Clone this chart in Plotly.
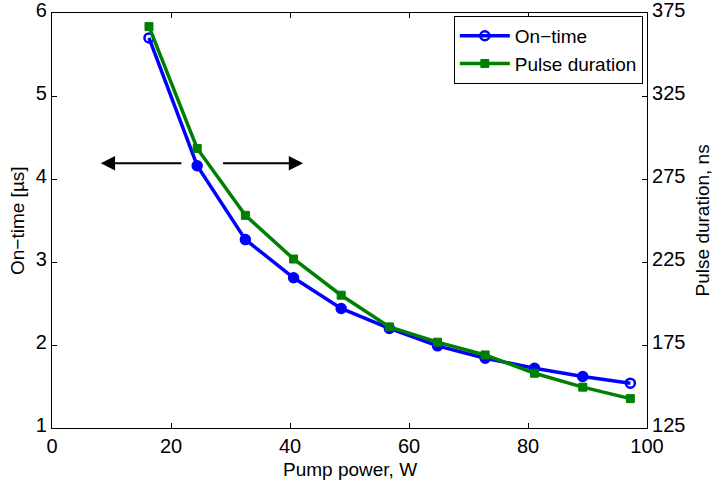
import plotly.graph_objects as go

pump_power = [16.3, 24.4, 32.5, 40.6, 48.6, 56.7, 64.8, 72.8, 81.1, 89.2, 97.2]
on_time = [5.70, 4.16, 3.27, 2.81, 2.44, 2.20, 1.99, 1.84, 1.72, 1.62, 1.54]
pulse_duration = [366.8, 293.4, 253.1, 226.8, 205.0, 185.9, 176.7, 169.0, 158.0, 149.6, 142.7]

x_ticks = [0, 20, 40, 60, 80, 100]
y1_ticks = [1, 2, 3, 4, 5, 6]
y2_ticks = [125, 175, 225, 275, 325, 375]

x_title = "Pump power, W"
y1_title = "On\u2212time [\u00b5s]"
y2_title = "Pulse duration, ns"

FONT = "Liberation Sans"
blue = "#0000FF"
green = "#008000"

n = len(pump_power)
blue_symbols = ["circle-open" if i in (0, n - 1) else "circle" for i in range(n)]

fig = go.Figure()
fig.add_trace(go.Scatter(
    x=pump_power, y=on_time, name="On\u2212time", mode="lines+markers",
    line=dict(color=blue, width=3.5),
    marker=dict(symbol=blue_symbols, size=9, color=blue, line=dict(color=blue, width=2.5)),
    yaxis="y"))
fig.add_trace(go.Scatter(
    x=pump_power, y=pulse_duration, name="Pulse duration", mode="lines+markers",
    line=dict(color=green, width=3.5),
    marker=dict(symbol="square", size=8, color=green, line=dict(color=green, width=1)),
    yaxis="y2"))

# direction arrows
fig.add_annotation(x=8.2, y=4.19, ax=22.0, ay=4.19, xref="x", yref="y", axref="x", ayref="y",
                   showarrow=True, arrowhead=2, arrowsize=1.3, arrowwidth=2.2, arrowcolor="black", text="")
fig.add_annotation(x=42.2, y=4.19, ax=28.5, ay=4.19, xref="x", yref="y", axref="x", ayref="y",
                   showarrow=True, arrowhead=2, arrowsize=1.3, arrowwidth=2.2, arrowcolor="black", text="")

# axis titles
title_font = dict(family=FONT, size=19, color="black")
fig.add_annotation(text=x_title, xref="paper", yref="paper", x=0.5, y=-0.1,
                   xanchor="center", yanchor="middle", showarrow=False, font=title_font)
fig.add_annotation(text=y1_title, xref="paper", yref="paper", x=-0.058, y=0.5, textangle=-90,
                   xanchor="center", yanchor="middle", showarrow=False, font=title_font)
fig.add_annotation(text=y2_title, xref="paper", yref="paper", x=1.094, y=0.5, textangle=-90,
                   xanchor="center", yanchor="middle", showarrow=False, font=title_font)

axis_common = dict(showgrid=False, zeroline=False, showline=True, linecolor="black", linewidth=1.2,
                   ticks="inside", ticklen=5, tickcolor="black", automargin=False,
                   ticklabeloverflow="allow",
                   tickfont=dict(family=FONT, size=20, color="black"))

fig.update_layout(
    width=714, height=482,
    margin=dict(l=52, r=67, t=13, b=54, autoexpand=False),
    paper_bgcolor="white", plot_bgcolor="white",
    font=dict(family=FONT, color="black"),
    xaxis=dict(range=[0, 100], tickvals=x_ticks, mirror="ticks", **axis_common),
    yaxis=dict(range=[1, 6], tickvals=y1_ticks, ticklabelshift=-3, **axis_common),
    yaxis2=dict(range=[125, 375], tickvals=y2_ticks, overlaying="y", side="right",
                ticklabelshift=-3, **axis_common),
    legend=dict(x=0.993, y=0.993, xanchor="right", yanchor="top",
                bordercolor="black", borderwidth=1, bgcolor="white",
                font=dict(family=FONT, size=19), tracegroupgap=0, itemwidth=50),
    showlegend=True,
)

fig.write_html("out.html", config={"displayModeBar": False},
               post_script="document.body.style.margin='0';document.body.style.overflow='hidden';")
